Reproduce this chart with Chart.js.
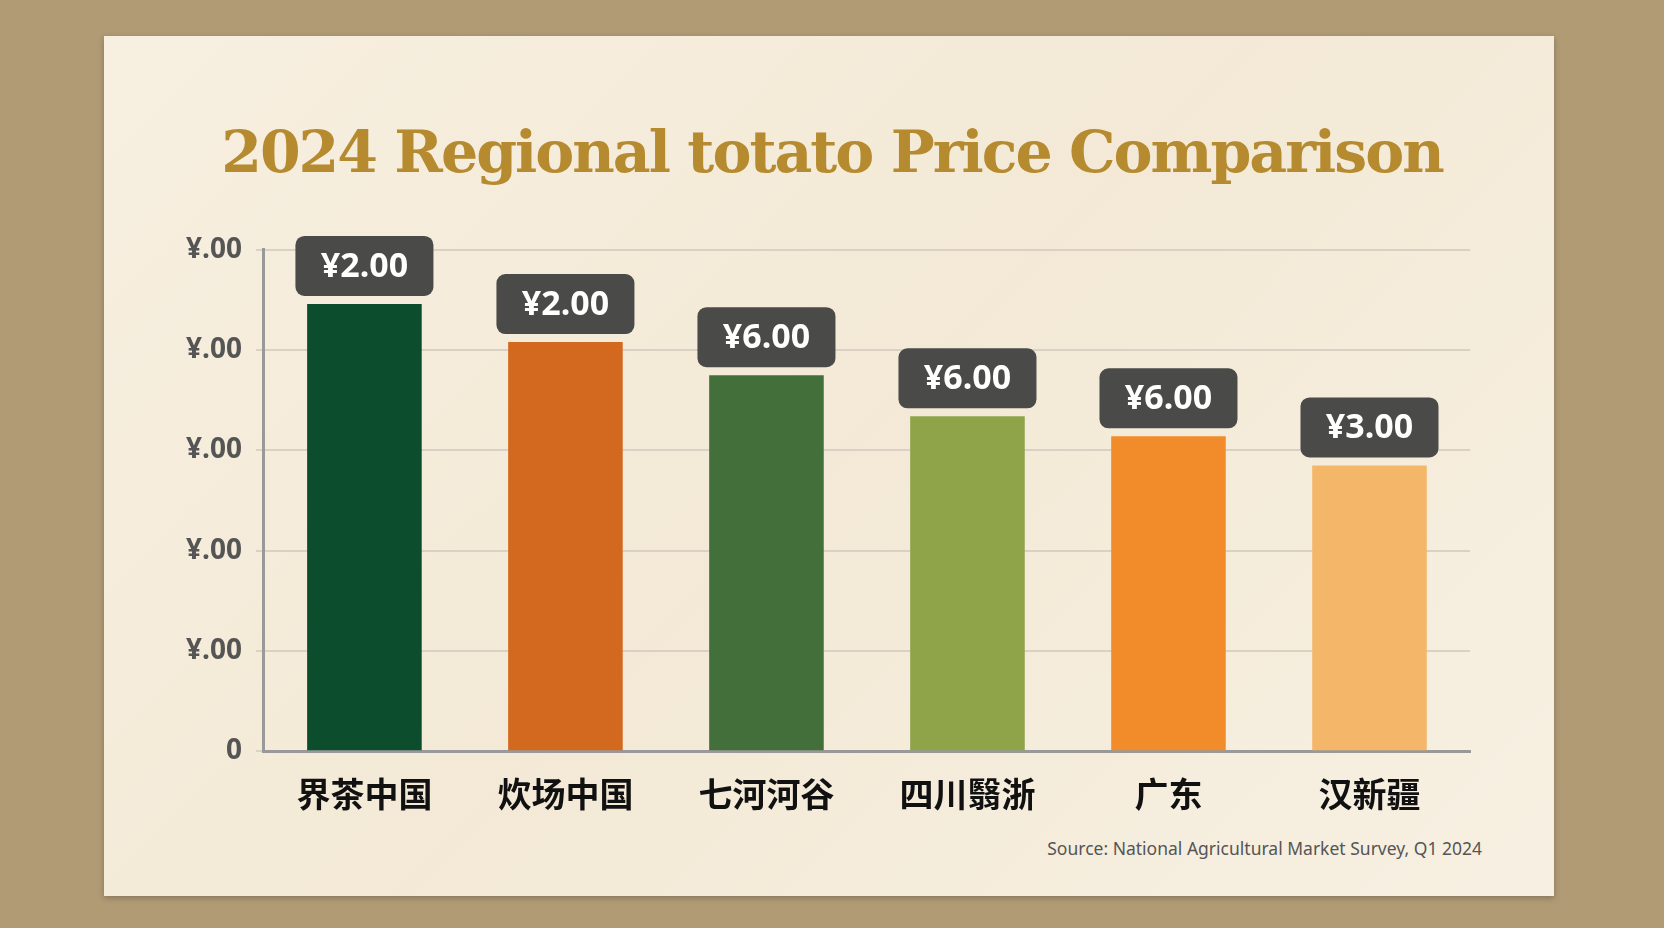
<!DOCTYPE html>
<html><head><meta charset="utf-8">
<script src="https://cdn.jsdelivr.net/npm/chart.js@4"></script>
<style>
body{margin:0;width:1664px;height:928px;background:#b19b75;overflow:hidden;position:relative;font-family:"Noto Sans CJK SC","Noto Sans",sans-serif}
#paper{position:absolute;left:104px;top:36px;width:1450px;height:860px;background:linear-gradient(135deg,#f7efe0,#f3e9d6 50%,#f7f0e2);box-shadow:0 2px 6px rgba(0,0,0,.25)}
#title{position:absolute;left:0;width:1664px;top:117px;text-align:center;font-family:"DejaVu Serif","Liberation Serif",serif;font-weight:bold;font-size:58.5px;color:#b68a2f;letter-spacing:-2px}
#src{position:absolute;right:182px;top:836px;font-size:17.5px;color:#555;font-family:"Noto Sans",sans-serif}
#wrap{position:absolute;left:150px;top:219px;width:1380px;height:603px}
</style></head><body>
<div id="paper"></div>
<div id="title">2024 Regional totato Price Comparison</div>
<div id="wrap"><canvas id="c"></canvas></div>
<div id="src">Source: National Agricultural Market Survey, Q1 2024</div>
<script>
const categories=["界茶中国","炊场中国","七河河谷","四川翳浙","广东","汉新疆"];
const values=[4.46,4.08,3.75,3.34,3.14,2.85];
const valueLabels=["¥2.00","¥2.00","¥6.00","¥6.00","¥6.00","¥3.00"];
const tickLabels=["0","¥.00","¥.00","¥.00","¥.00","¥.00"];
const colors=["#0b4d2c","#d2691e","#43703a","#8fa349","#f28c2b","#f4b76a"];
const labelPlugin={id:"lbl",afterDatasetsDraw(ch){const c=ch.ctx;const m=ch.getDatasetMeta(0);
c.save();c.font="bold 34px 'Noto Sans','DejaVu Sans',sans-serif";c.textAlign="center";c.textBaseline="middle";
m.data.forEach((b,i)=>{const w=138,h=60,x=b.x-w/2,y=b.y-h-8;c.fillStyle="#4a4a48";c.beginPath();c.roundRect(x,y,w,h,9);c.fill();
c.fillStyle="#fff";c.fillText(valueLabels[i],b.x,y+h/2+1);});c.restore();}};
new Chart(document.getElementById("c"),{type:"bar",
data:{labels:categories,datasets:[{data:values,backgroundColor:colors,barPercentage:0.57,categoryPercentage:1}]},
options:{responsive:true,maintainAspectRatio:false,animation:false,
layout:{padding:{left:22,right:60,top:20,bottom:0}},
plugins:{legend:{display:false},tooltip:{enabled:false}},
scales:{y:{min:0,max:5,ticks:{stepSize:1,padding:14,color:"#555",font:{size:28,weight:"bold",family:"Noto Sans"},callback:(v)=>tickLabels[v]},
grid:{color:"#d9d2c4",lineWidth:2,drawTicks:true,tickLength:8},border:{display:true,color:"#999",width:3}},
x:{ticks:{color:"#111",padding:8,font:{size:34,weight:"bold",family:"Noto Sans CJK SC"}},grid:{display:false,drawOnChartArea:false,drawTicks:true,tickLength:14,color:"#999"},border:{color:"#999",width:3}}}},
plugins:[labelPlugin]});
</script></body></html>
